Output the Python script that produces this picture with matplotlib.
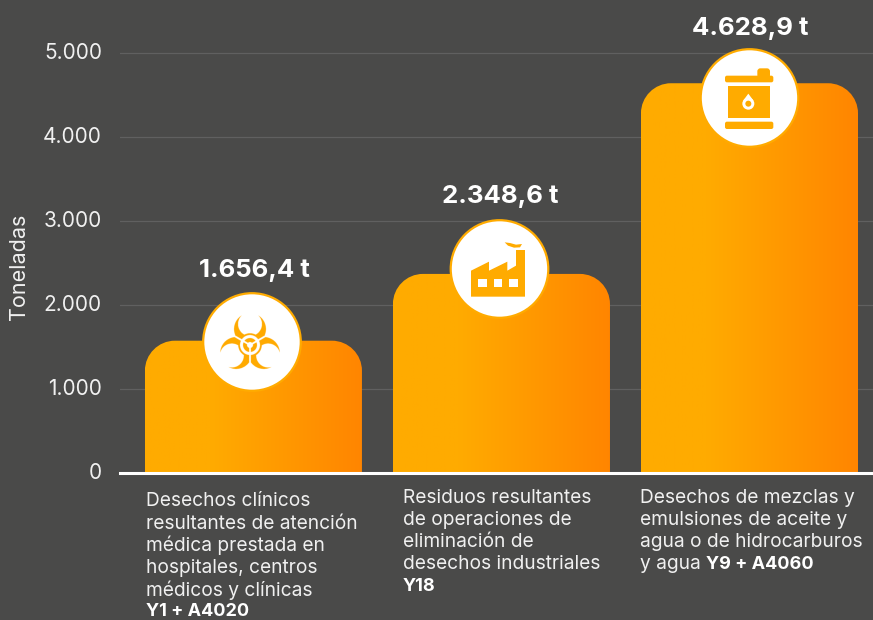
import matplotlib
matplotlib.use("Agg")
import matplotlib.pyplot as plt
import numpy as np
from matplotlib.colors import LinearSegmentedColormap
from matplotlib.patches import Circle, FancyBboxPatch, PathPatch, Polygon, Rectangle
from matplotlib.path import Path
from matplotlib.transforms import ScaledTranslation

plt.rcParams['font.family'] = ['Inter', 'DejaVu Sans']

# Data
bar_heights = [1575, 2370, 4640]
value_labels = ["1.656,4 t", "2.348,6 t", "4.628,9 t"]
y_ticks = [0, 1000, 2000, 3000, 4000, 5000]
y_tick_labels = ["0", "1.000", "2.000", "3.000", "4.000", "5.000"]
cat1_lines = ["Desechos clínicos", "resultantes de atención", "médica prestada en",
              "hospitales, centros", "médicos y clínicas"]
cat1_bold = "Y1 + A4020"
cat2_lines = ["Residuos resultantes", "de operaciones de", "eliminación de",
              "desechos industriales"]
cat2_bold = "Y18"
cat3_lines = ["Desechos de mezclas y", "emulsiones de aceite y",
              "agua o de hidrocarburos", "y agua"]
cat3_bold = "Y9 + A4060"

BG = "#4A4A49"
ORANGE = "#FFAB00"
LIGHT = "#F0F0F0"
W, H = 873, 620

fig = plt.figure(figsize=(W / 100, H / 100), dpi=100, facecolor=BG)

# main axes: 120..873 px wide, baseline at 473 px
ax = fig.add_axes([120 / W, (H - 473) / H, (W - 120) / W, 473 / H], facecolor=BG)
ax.set_xlim(-0.538, 2.498)
ax.set_ylim(0, 473 / 0.084)
for s in ["top", "right", "left"]:
    ax.spines[s].set_visible(False)
ax.spines["bottom"].set_color("white")
ax.spines["bottom"].set_linewidth(2.2)
ax.set_xticks([])
ax.set_yticks(y_ticks)
ax.set_yticklabels(y_tick_labels, fontsize=15, color=LIGHT)
ax.tick_params(axis="y", length=0, pad=13)
# labels sit about 2 px above their gridlines
nudge = ScaledTranslation(0, 2 / 100, fig.dpi_scale_trans)
for lab in ax.get_yticklabels():
    lab.set_transform(lab.get_transform() + nudge)
ax.grid(axis="y", color="#606060", linewidth=0.9)
ax.set_axisbelow(True)
ax.set_ylabel("Toneladas", fontsize=15.5, color=LIGHT)
ax.yaxis.set_label_coords(-91 / 753, 206 / 473)

cmap = LinearSegmentedColormap.from_list(
    "bar", [(0, "#FFAB00"), (0.3, "#FFAB00"), (1, "#FF8500")])
grad = np.linspace(0, 1, 256).reshape(1, -1)
bar_w = 217 / 248
rx, ry = 30 / 248, 30 / 0.084
for i, h in enumerate(bar_heights):
    x0, x1 = i - bar_w / 2, i + bar_w / 2
    k = 0.45
    verts = [(x0, 0), (x0, h - ry),
             (x0, h - ry * k), (x0 + rx * k, h), (x0 + rx, h),
             (x1 - rx, h),
             (x1 - rx * k, h), (x1, h - ry * k), (x1, h - ry),
             (x1, 0), (x0, 0)]
    codes = [Path.MOVETO, Path.LINETO,
             Path.CURVE4, Path.CURVE4, Path.CURVE4,
             Path.LINETO,
             Path.CURVE4, Path.CURVE4, Path.CURVE4,
             Path.LINETO, Path.CLOSEPOLY]
    clip = PathPatch(Path(verts, codes), transform=ax.transData, fc="none", ec="none")
    ax.add_patch(clip)
    im = ax.imshow(grad, extent=[x0, x1, 0, h], aspect="auto", cmap=cmap, zorder=2)
    im.set_clip_path(clip)
ax.set_xlim(-0.538, 2.498)
ax.set_ylim(0, 473 / 0.084)

# overlay in pixel coordinates for badges and texts
ov = fig.add_axes([0, 0, 1, 1], facecolor="none")
ov.set_xlim(0, W)
ov.set_ylim(H, 0)
ov.axis("off")

value_pos = [(254, 270), (500, 197), (750, 29)]
for (x, y), t in zip(value_pos, value_labels):
    ov.text(x, y, t, ha="center", va="center", fontsize=18.6, fontweight="bold", color="white")

badges = [(252, 342), (499.5, 269), (749.5, 98)]
for cx, cy in badges:
    ov.add_patch(Circle((cx, cy), 48.8, fc="white", ec=ORANGE, lw=1.6, zorder=3))


def biohazard(cx, cy):
    n = 400
    span = 34
    xs = np.linspace(-span, span, n)
    X, Y = np.meshgrid(xs, xs)
    R = np.hypot(X, Y)
    dirs = [(np.cos(a), -np.sin(a)) for a in np.deg2rad([90, 210, 330])]
    mask = np.zeros_like(X, dtype=bool)
    bays = np.zeros_like(X, dtype=bool)
    for ux, uy in dirs:
        mask |= np.hypot(X - 16 * ux, Y - 16 * uy) < 16
        bays |= np.hypot(X - 21 * ux, Y - 21 * uy) < 12
    mask &= ~bays
    # broken ring with a white band inside it
    mask &= ~((R > 7) & (R < 10))
    mask |= (R > 10) & (R < 11.8)
    for ux, uy in dirs:
        along = X * ux + Y * uy
        across = np.abs(-X * uy + Y * ux)
        mask &= ~((across < 0.9) & (along < 0) & (along > -17))
    mask &= R > 3
    rgba = np.zeros((n, n, 4))
    rgba[..., 0], rgba[..., 1], rgba[..., 2] = 1.0, 0.67, 0.0
    rgba[..., 3] = mask
    ov.imshow(rgba, extent=[cx - span, cx + span, cy + span, cy - span],
              aspect="auto", zorder=4, interpolation="antialiased")


biohazard(250, 345)
ov.set_xlim(0, W)
ov.set_ylim(H, 0)


# icons, in px relative to the crop origin
def factory(ox, oy):
    pts = [(123, 182), (177, 155), (177, 182), (232, 155), (232, 182), (258, 167),
           (258, 120), (285, 120), (285, 260), (123, 260)]
    ov.add_patch(Polygon([(ox + a / 3, oy + b / 3) for a, b in pts], fc=ORANGE, ec="none", zorder=4))
    for a in [145, 191, 238]:
        ov.add_patch(Rectangle((ox + a / 3, oy + 207 / 3), 26 / 3, 23 / 3, fc="white", ec="none", zorder=5))
    smoke = [(224, 97), (240, 99), (258, 104), (276, 102), (270, 112), (252, 113), (234, 107)]
    ov.add_patch(Polygon([(ox + a / 3, oy + b / 3) for a, b in smoke], fc=ORANGE, ec="none", zorder=4))


def barrel(ox, oy):
    def box(x0, y0, x1, y1, r):
        ov.add_patch(FancyBboxPatch((ox + x0 / 3 + r, oy + y0 / 3 + r),
                                    (x1 - x0) / 3 - 2 * r, (y1 - y0) / 3 - 2 * r,
                                    boxstyle=f"round,pad={r},rounding_size={r}",
                                    fc=ORANGE, ec="none", zorder=4))
    box(232, 85, 270, 115, 3)
    box(135, 107, 280, 127, 2)
    ov.add_patch(Rectangle((ox + 145 / 3, oy + 138 / 3), 125 / 3, 97 / 3, fc=ORANGE, ec="none", zorder=4))
    box(135, 245, 280, 267, 2)
    dx, dy = ox + 205 / 3, oy + 191 / 3
    ov.add_patch(Circle((dx, dy), 6, fc="white", ec="none", zorder=5))
    ov.add_patch(Polygon([(dx - 5.2, dy - 3), (dx, dy - 10), (dx + 5.2, dy - 3)], fc="white", ec="none", zorder=5))
    ov.add_patch(Circle((dx, dy), 3, fc=ORANGE, ec="none", zorder=6))


factory(430, 210)
barrel(680, 40)


def cat_text(x, y0, lines, bold, inline=False):
    step = 22.1
    last = None
    for j, line in enumerate(lines):
        last = ov.text(x, y0 + j * step, line, fontsize=13.8, color=LIGHT, va="center", ha="left")
    if inline:
        ov.annotate(bold, xy=(1, 0.5), xycoords=last, xytext=(4, 0), textcoords="offset points",
                    fontsize=13, fontweight="bold", color="white", va="center", ha="left")
    else:
        ov.text(x, y0 + len(lines) * step, bold, fontsize=13, fontweight="bold",
                color="white", va="center", ha="left")


cat_text(146, 501.5, cat1_lines, cat1_bold)
cat_text(403, 498, cat2_lines, cat2_bold)
cat_text(640, 498, cat3_lines, cat3_bold, inline=True)

fig.savefig("out.png", dpi=100, facecolor=BG)
plt.close(fig)
